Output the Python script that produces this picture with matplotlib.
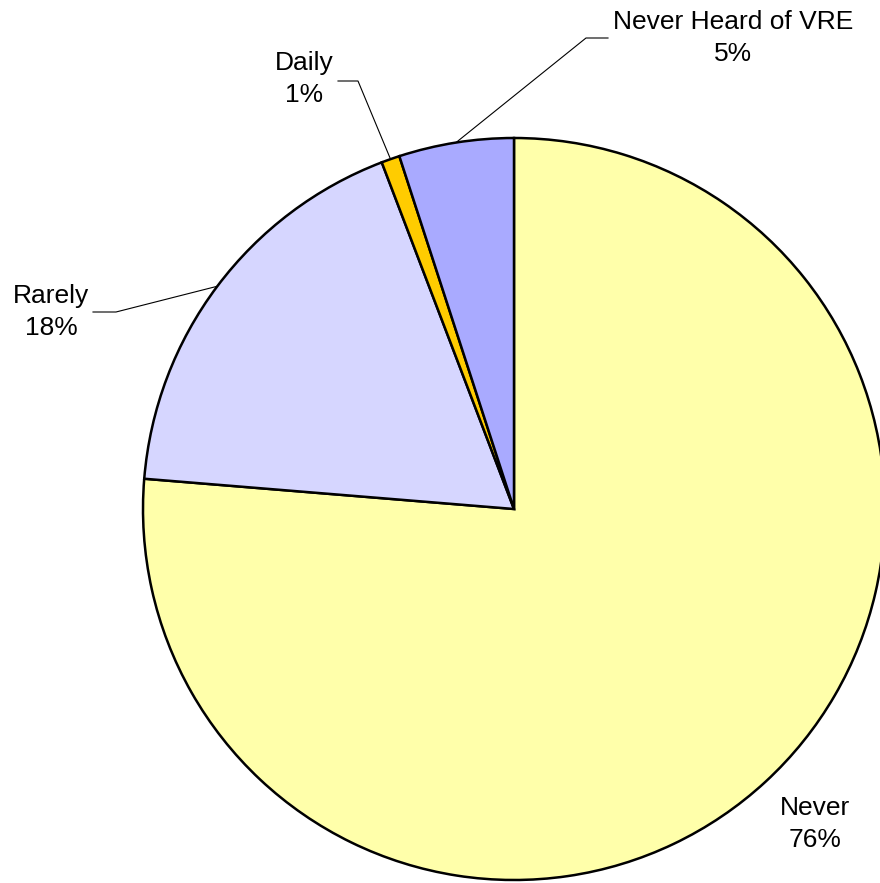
import numpy as np
import matplotlib
matplotlib.use("Agg")
import matplotlib.pyplot as plt

# Survey responses (percent)
labels = ["Never", "Rarely", "Daily", "Never Heard of VRE"]
values = [76.3, 17.9, 0.8, 5.0]
colors = ["#FFFFAA", "#D6D6FF", "#FFCC00", "#A9AAFF"]

W, H = 880, 883
plt.rcParams['font.family'] = ['Liberation Sans', 'DejaVu Sans']

fig = plt.figure(figsize=(W / 100, H / 100), dpi=100)
ax = fig.add_axes([0, 0, 1, 1])

cx, cy, r = 514, H - 509, 371
wedges, _ = ax.pie(values, colors=colors, startangle=90, counterclock=False,
                   center=(cx, cy), radius=r, frame=True,
                   wedgeprops=dict(edgecolor='black', linewidth=1.8))
ax.set_xlim(0, W)
ax.set_ylim(0, H)
ax.set_aspect('equal')
ax.axis('off')

# label text position and leader elbow (pixel coords, y from top)
label_pos = {
    "Never": (815, 824, None),
    "Rarely": (51, 312, [(93, 312), (116, 312)]),
    "Daily": (304, 79, [(338, 81), (358, 81)]),
    "Never Heard of VRE": (733, 38, [(608, 38), (586, 38)]),
}

total = sum(values)
for w, lab, v in zip(wedges, labels, values):
    tx, ty, elbow = label_pos[lab]
    ax.text(tx, H - ty, f"{lab}\n{v / total * 100:.0f}%", ha='center', va='center',
            fontsize=19, linespacing=1.4)
    if elbow:
        ang = np.deg2rad((w.theta1 + w.theta2) / 2)
        ex, ey = cx + r * np.cos(ang), cy + r * np.sin(ang)
        xs = [elbow[0][0], elbow[1][0], ex]
        ys = [H - elbow[0][1], H - elbow[1][1], ey]
        ax.plot(xs, ys, color='black', linewidth=0.8)

fig.savefig("out.png", dpi=100)
